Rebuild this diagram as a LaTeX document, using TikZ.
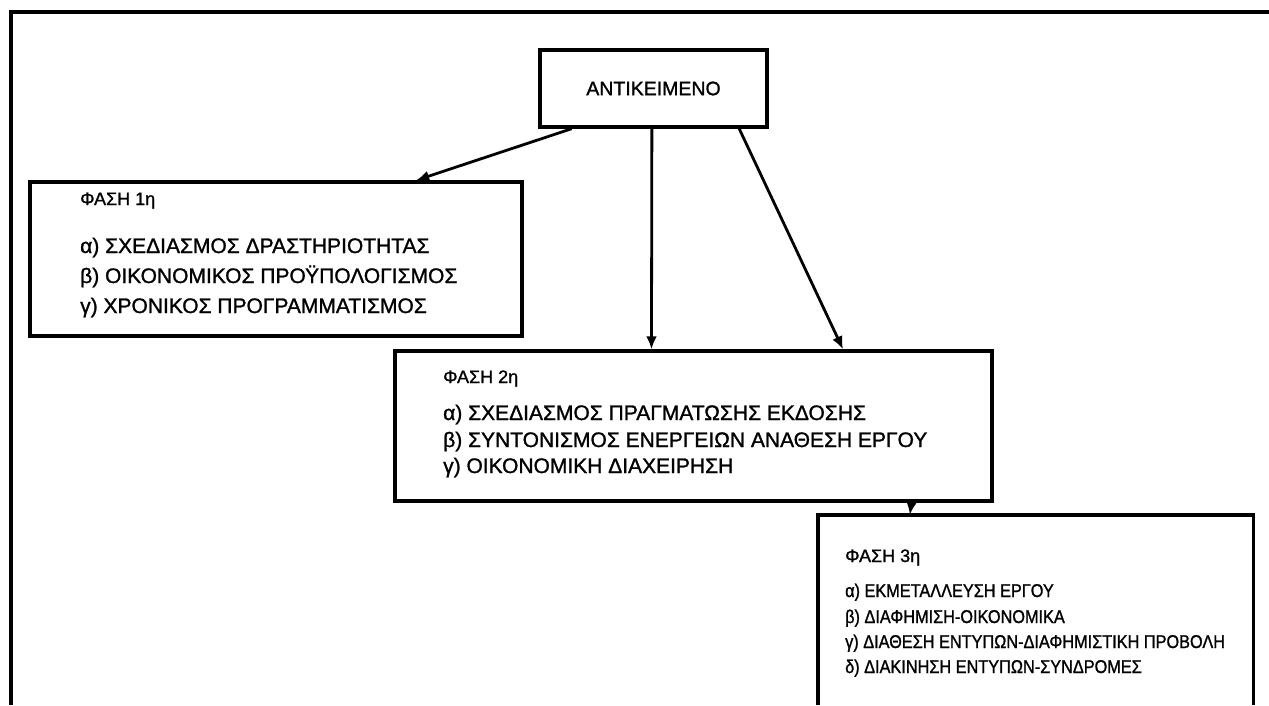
\documentclass[tikz,border=0pt]{standalone}
\usepackage{fontspec}
\setmainfont[FakeBold=1.2]{Liberation Sans}
\newfontfamily\narrowfont[FakeStretch=0.88,FakeBold=1.2]{Liberation Sans}
\usetikzlibrary{arrows.meta,calc}
\begin{document}
\begin{tikzpicture}[x=1pt,y=-1pt,
  box/.style={draw=black, line width=3.4pt, inner sep=0pt},
  ghost/.style={draw=none, inner sep=0pt},
  arr/.style={line width=2.8pt, -{Latex[length=13pt,width=11pt]}},
  head/.style={anchor=base west, inner sep=0pt, font=\fontsize{18}{21}\selectfont},
  item/.style={anchor=base west, inner sep=0pt, font=\fontsize{21}{24}\selectfont},
  itemn/.style={anchor=base west, inner sep=0pt, font=\narrowfont\fontsize{18.5}{21}\selectfont},
]
\useasboundingbox (0,0) rectangle (1269,705);
\fill[white] (0,0) rectangle (1269,705);
% outer frame
\coordinate (fbl) at (11,705);
\coordinate (ftl) at (11,12);
\coordinate (ftr) at (1269,12);
\draw[line width=3.6pt, line join=miter] (fbl) -- (ftl) -- (ftr);
% boxes
\node[box, minimum width=227pt, minimum height=77pt] (A) at (653.5,88.5)
  {\fontsize{19.5}{22}\selectfont ΑΝΤΙΚΕΙΜΕΝΟ};
\node[box, minimum width=492pt, minimum height=154pt] (P1) at (276,259) {};
\node[box, minimum width=597pt, minimum height=150pt] (P2) at (693.5,426) {};
\node[ghost, minimum width=435pt, minimum height=190pt] (P3) at (1035.5,610) {};
\draw[line width=3.4pt, line join=miter] (P3.south west) -- (P3.north west) -- (P3.north east) -- (P3.south east);
% texts box 1
\node[head] (h1) at (80,205) {ΦΑΣΗ 1η};
\node[item] (a1) at (80,253) {α) ΣΧΕΔΙΑΣΜΟΣ ΔΡΑΣΤΗΡΙΟΤΗΤΑΣ};
\node[item] (b1) at (80,283) {β) ΟΙΚΟΝΟΜΙΚΟΣ ΠΡΟΫΠΟΛΟΓΙΣΜΟΣ};
\node[item] (c1) at (80,313) {γ) ΧΡΟΝΙΚΟΣ ΠΡΟΓΡΑΜΜΑΤΙΣΜΟΣ};
% texts box 2
\node[head] (h2) at (443,383) {ΦΑΣΗ 2η};
\node[item] (a2) at (443,420) {α) ΣΧΕΔΙΑΣΜΟΣ ΠΡΑΓΜΑΤΩΣΗΣ ΕΚΔΟΣΗΣ};
\node[item] (b2) at (443,447) {β) ΣΥΝΤΟΝΙΣΜΟΣ ΕΝΕΡΓΕΙΩΝ ΑΝΑΘΕΣΗ ΕΡΓΟΥ};
\node[item] (c2) at (443,473) {γ) ΟΙΚΟΝΟΜΙΚΗ ΔΙΑΧΕΙΡΗΣΗ};
% texts box 3
\node[head] (h3) at (845,562) {ΦΑΣΗ 3η};
\node[itemn] (a3) at (845,597) {α) ΕΚΜΕΤΑΛΛΕΥΣΗ ΕΡΓΟΥ};
\node[itemn] (b3) at (845,623) {β) ΔΙΑΦΗΜΙΣΗ-ΟΙΚΟΝΟΜΙΚΑ};
\node[itemn] (c3) at (845,648) {γ) ΔΙΑΘΕΣΗ ΕΝΤΥΠΩΝ-ΔΙΑΦΗΜΙΣΤΙΚΗ ΠΡΟΒΟΛΗ};
\node[itemn] (d3) at (845,673) {δ) ΔΙΑΚΙΝΗΣΗ ΕΝΤΥΠΩΝ-ΣΥΝΔΡΟΜΕΣ};
% connectors
\draw[arr] ($(A.south west)!0.145!(A.south east)$) -- ($(P1.north west)!0.783!(P1.north east)$);
\draw[arr] ($(A.south west)!0.493!(A.south east)$) -- ($(P2.north west)!0.430!(P2.north east)$);
\draw[arr] ($(A.south west)!0.872!(A.south east)$) -- ($(P2.north west)!0.749!(P2.north east)$);
\draw[arr] ($(P2.south west)!0.863!(P2.south east)$) -- ($(P3.north west)!0.2115!(P3.north east)$);
\end{tikzpicture}
\end{document}
